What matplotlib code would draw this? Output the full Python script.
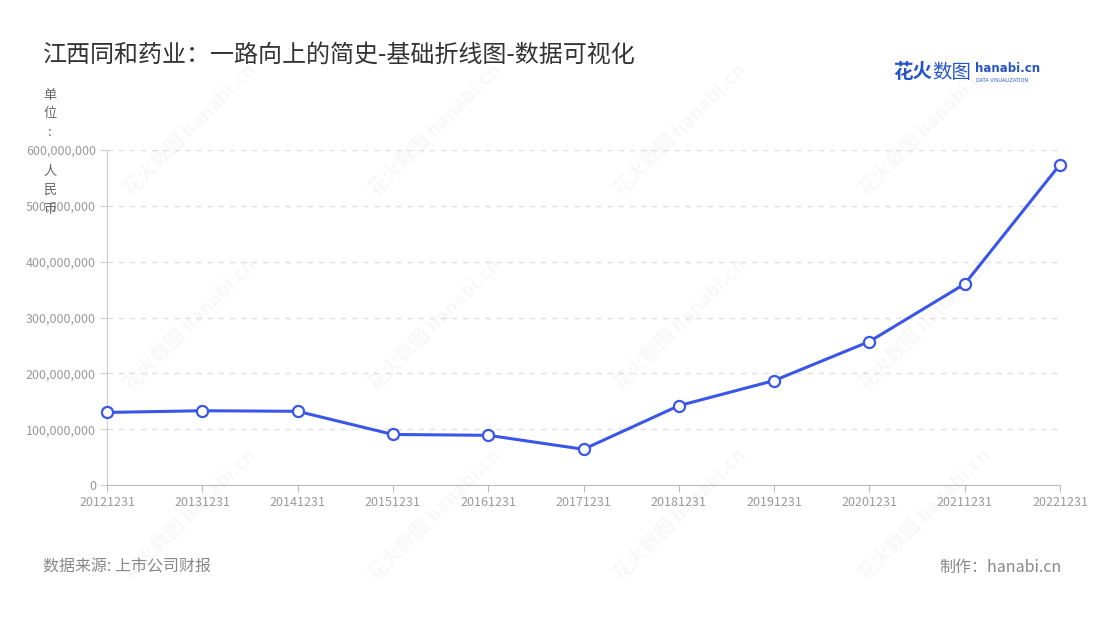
import matplotlib.pyplot as plt
from matplotlib.ticker import FuncFormatter

plt.rcParams['font.family'] = ['Noto Sans CJK SC', 'DejaVu Sans']

# ---- data ----
dates = ["20121231", "20131231", "20141231", "20151231", "20161231", "20171231",
         "20181231", "20191231", "20201231", "20211231", "20221231"]
values = [130e6, 133e6, 132e6, 90.5e6, 89e6, 64e6,
          142e6, 187e6, 257e6, 360e6, 574e6]

title = "江西同和药业：一路向上的简史-基础折线图-数据可视化"
unit_chars = ["单", "位", ":", "", "人", "民", "币"]
source = "数据来源: 上市公司财报"
maker = "制作：hanabi.cn"

W, H = 1100, 620
fig = plt.figure(figsize=(W / 100, H / 100), dpi=100)
ax = fig.add_axes([107 / W, 1 - 485 / H, (1060 - 107) / W, (485 - 150) / H])

# faint watermarks
for wx in [190, 435, 680, 925]:
    for wy in [130, 325, 515]:
        fig.text(wx / W, 1 - wy / H, "花火数图 hanabi.cn", rotation=45,
                 ha="center", va="center", fontsize=14, fontweight="bold",
                 color="#000000", alpha=0.03, zorder=0)

x = list(range(len(dates)))
ax.plot(x, values, color="#3a56e8", lw=2.2, marker="o", markersize=8,
        markerfacecolor="white", markeredgecolor="#3a56e8", markeredgewidth=1.6,
        zorder=3, clip_on=False)

ax.set_xlim(0, len(dates) - 1)
ax.set_ylim(0, 600e6)
ax.set_xticks(x)
ax.set_xticklabels(dates)
ax.set_yticks([i * 100e6 for i in range(7)])
ax.yaxis.set_major_formatter(FuncFormatter(lambda v, p: f"{int(v):,}"))

ax.grid(axis="y", linestyle=(0, (4, 4)), color="#e0e0e0", lw=1)
ax.set_axisbelow(True)
for s in ["top", "right"]:
    ax.spines[s].set_visible(False)
ax.spines["left"].set_color("#cccccc")
ax.spines["bottom"].set_color("#bbbbbb")
ax.tick_params(axis="x", colors="#bbbbbb", labelcolor="#999999", labelsize=9,
               length=5, pad=3)
ax.tick_params(axis="y", colors="#cccccc", labelcolor="#999999", labelsize=9,
               length=5, pad=3)

# title
fig.text(43 / W, 1 - 55 / H, title, fontsize=17.3, color="#333333",
         ha="left", va="center")

# unit label stacked vertically (overlaps the tick labels, as in the source)
for i, ch in enumerate(unit_chars):
    fig.text(50 / W, 1 - (95 + i * 19) / H, ch, fontsize=9.5, color="#666666",
             ha="center", va="center")

# logo
fig.text(893 / W, 1 - 73 / H, "花火", fontsize=14, fontweight="bold",
         color="#2655c9", ha="left", va="center")
fig.text(932 / W, 1 - 73 / H, "数图", fontsize=14, color="#2655c9",
         ha="left", va="center")
fig.text(975 / W, 1 - 69 / H, "hanabi.cn", fontsize=8.5, fontweight="bold",
         color="#2655c9", ha="left", va="center", family=["DejaVu Sans"])
fig.text(976 / W, 1 - 80 / H, "DATA VISUALIZATION", fontsize=3.6,
         color="#2655c9", ha="left", va="center", family=["DejaVu Sans"])

# footer
fig.text(43 / W, 1 - 567 / H, source, fontsize=11.5, color="#888888",
         ha="left", va="center")
fig.text(1062 / W, 1 - 567 / H, maker, fontsize=11.5, color="#888888",
         ha="right", va="center")

fig.savefig("out.png", dpi=100, facecolor="white")
